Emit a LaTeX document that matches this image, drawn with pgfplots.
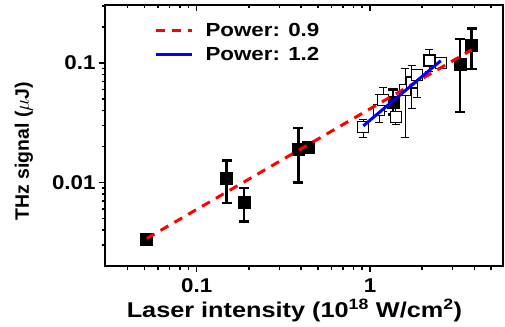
\documentclass[border=0pt]{standalone}
\usepackage{pgfplots}
\pgfplotsset{compat=1.18}
\usepackage{fontspec}
\setmainfont{Liberation Sans}[FakeStretch=1.18]
\newfontfamily\ylabfont{Liberation Sans}
\newfontfamily\tickfont{Liberation Sans}[FakeStretch=1.12]

% filled squares: x, y, upper error, lower error
\pgfplotstableread{
x      y        ep      em
0.0515 0.00335  0.0003  0.0003
0.149  0.0109   0.0044  0.0042
0.188  0.0069   0.0021  0.0022
0.386  0.0191   0.0094  0.0091
0.44   0.0196   0       0
1.36   0.047    0.013   0.010
3.31   0.0987   0.060   0.060
3.86   0.142    0.052   0.053
}\filled

% open squares
\pgfplotstableread{
x      y        ep      em
0.915  0.0291   0.0044  0.0051
1.13   0.0406   0.0136  0.0088
1.19   0.0492   0.013   0.010
1.41   0.0352   0.012   0.0048
1.59   0.0597   0.031   0.036
1.74   0.0687   0.026   0.027
1.87   0.0798   0.008   0.028
2.20   0.105    0.026   0.020
2.56   0.100    0.003   0.003
}\open

\begin{document}
\begin{tikzpicture}
\path[use as bounding box] (-105bp,-61bp) rectangle (400bp,266bp);
\begin{axis}[
  at={(0,0)}, anchor=south west,
  scale only axis, width=398bp, height=261bp,
  xmode=log, ymode=log,
  xmin=0.0296, xmax=5.85, ymin=0.002, ymax=0.306,
  clip marker paths=true,
  axis line style={line width=1.6bp},
  xtick={0.1,1}, xticklabels={0.1,1},
  ytick={0.01,0.1}, yticklabels={0.01,0.1},
  minor xtick={0.04,0.05,0.06,0.07,0.08,0.09,0.2,0.3,0.4,0.5,0.6,0.7,0.8,0.9,2,3,4,5},
  minor ytick={0.003,0.004,0.005,0.006,0.007,0.008,0.009,0.02,0.03,0.04,0.05,0.06,0.07,0.08,0.09,0.2,0.3},
  xtick pos=bottom, ytick pos=left, tick align=outside,
  major tick length=6bp, minor tick length=3.5bp,
  every tick/.style={black, line width=1.4bp},
  /pgf/number format/assume math mode=true,
  tick label style={font=\tickfont\bfseries\fontsize{20}{20}\selectfont},
  xticklabel style={anchor=base, yshift=-20.7bp},
  xlabel={Laser intensity (10\textsuperscript{18} W/cm\textsuperscript{2})},
  xlabel style={at={(axis description cs:0.476,0)}, anchor=base, yshift=-51.3bp,
    font=\bfseries\fontsize{21.5}{21.5}\selectfont},
  ylabel={THz signal ($\mu$J)},
  ylabel style={at={(axis description cs:0,0.44)}, anchor=center, yshift=81bp,
    font=\ylabfont\bfseries\fontsize{19.5}{19.5}\selectfont},
  legend style={at={(axis description cs:0.124,0.94)}, anchor=north west,
    draw=none, fill=none, inner sep=0pt, row sep=6bp,
    font=\bfseries\fontsize{19}{19}\selectfont},
  legend cell align=left,
  legend image code/.code={\draw[#1] (0bp,0bp) -- (36bp,0bp); \path (46bp,0bp);},
]
\addplot[forget plot, only marks, mark=square*, mark size=6bp, black,
  error bars/.cd, y dir=both, y explicit,
  error bar style={line width=2.4bp}, error mark options={rotate=90, mark size=5bp, line width=2.4bp}]
  table[x=x, y=y, y error plus=ep, y error minus=em] {\filled};
\addplot[forget plot, only marks, mark=square*, mark size=5.5bp, black, mark options={fill=white, line width=1.3bp},
  error bars/.cd, y dir=both, y explicit,
  error bar style={line width=0.8bp}, error mark options={rotate=90, mark size=4bp, line width=0.8bp}]
  table[x=x, y=y, y error plus=ep, y error minus=em] {\open};
\addplot[red, line width=3bp, dash pattern=on 9bp off 7bp] coordinates {(0.0515,0.0034) (3.86,0.129)};
\addlegendentry{Power: 0.9}
\addplot[blue, line width=3bp] coordinates {(0.915,0.0298) (2.56,0.1045)};
\addlegendentry{Power: 1.2}
\end{axis}
% mirrored ticks on the top edge, pointing inward
\begin{axis}[
  at={(0,0)}, anchor=south west,
  scale only axis, width=398bp, height=261bp,
  xmode=log, ymode=log,
  xmin=0.0296, xmax=5.85, ymin=0.002, ymax=0.306,
  axis x line*=top, axis y line=none,
  axis line style={draw=none},
  xtick={0.1,1}, xticklabels={},
  minor xtick={0.04,0.05,0.06,0.07,0.08,0.09,0.2,0.3,0.4,0.5,0.6,0.7,0.8,0.9,2,3,4,5},
  tick align=inside,
  major tick length=6bp, minor tick length=3.5bp,
  every tick/.style={black, line width=1.4bp},
]
\end{axis}
\end{tikzpicture}
\end{document}
